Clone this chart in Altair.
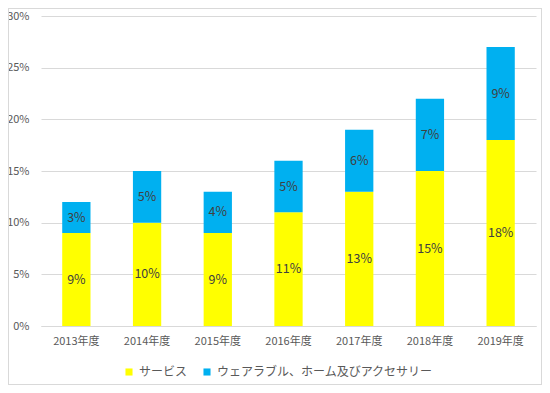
import altair as alt
import pandas as pd

years = ["2013年度", "2014年度", "2015年度", "2016年度", "2017年度", "2018年度", "2019年度"]
services = [0.09, 0.10, 0.09, 0.11, 0.13, 0.15, 0.18]
wearables = [0.03, 0.05, 0.04, 0.05, 0.06, 0.07, 0.09]
series = ["サービス", "ウェアラブル、ホーム及びアクセサリー"]
colors = ["#FFFF00", "#00B0F0"]
y_ticks = [0, 0.05, 0.10, 0.15, 0.20, 0.25, 0.30]

rows = []
for i, y in enumerate(years):
    rows.append({"year": y, "series": series[0], "value": services[i], "ord": 0})
    rows.append({"year": y, "series": series[1], "value": wearables[i], "ord": 1})
df = pd.DataFrame(rows)

FONT = "Noto Sans CJK JP"

base = alt.Chart(df).transform_stack(
    stack="value", groupby=["year"], as_=["v0", "v1"], sort=[alt.SortField("ord")]
).transform_calculate(mid="(datum.v0 + datum.v1) / 2")

xenc = alt.X("year:N", sort=years, title=None,
             scale=alt.Scale(paddingInner=0.6, paddingOuter=0.3),
             axis=alt.Axis(labelAngle=0, ticks=False, domainColor="#D9D9D9",
                           labelPadding=9, labelFontSize=11, labelColor="#595959",
                           labelFont=FONT))

bars = base.mark_bar().encode(
    x=xenc,
    y=alt.Y("v0:Q", title=None, scale=alt.Scale(domain=[0, 0.3]),
            axis=alt.Axis(values=y_ticks, format=".0%", ticks=False, domain=False,
                          gridColor="#D9D9D9", labelPadding=12, labelFontSize=11,
                          labelColor="#595959", labelFont=FONT)),
    y2="v1:Q",
    color=alt.Color("series:N", sort=series,
                    scale=alt.Scale(domain=series, range=colors),
                    legend=alt.Legend(title=None, orient="none", direction="horizontal",
                                      legendX=82, legendY=350, symbolType="square",
                                      symbolSize=50, symbolStrokeWidth=0,
                                      labelFontSize=12, labelColor="#595959",
                                      labelLimit=0, labelFont=FONT, columnPadding=13,
                                      symbolOffset=0)),
)

labels = base.mark_text(fontSize=12.5, color="#404040", font=FONT).encode(
    x=alt.X("year:N", sort=years),
    y=alt.Y("mid:Q"),
    text=alt.Text("value:Q", format=".0%"),
)

frame = alt.Chart(df).mark_rect(fill=None, stroke="#D9D9D9", strokeWidth=1).encode(
    x=alt.value(-32.5), x2=alt.value(500.5), y=alt.value(-7.5), y2=alt.value(368.5)
)

chart = alt.layer(bars, labels, frame).properties(
    width=495, height=310,
    padding={"left": 33, "top": 8, "right": 6, "bottom": 59},
    autosize=alt.AutoSizeParams(type="none"),
).configure_view(stroke=None)

chart.save("out.html", embed_options={"renderer": "svg", "actions": False})
